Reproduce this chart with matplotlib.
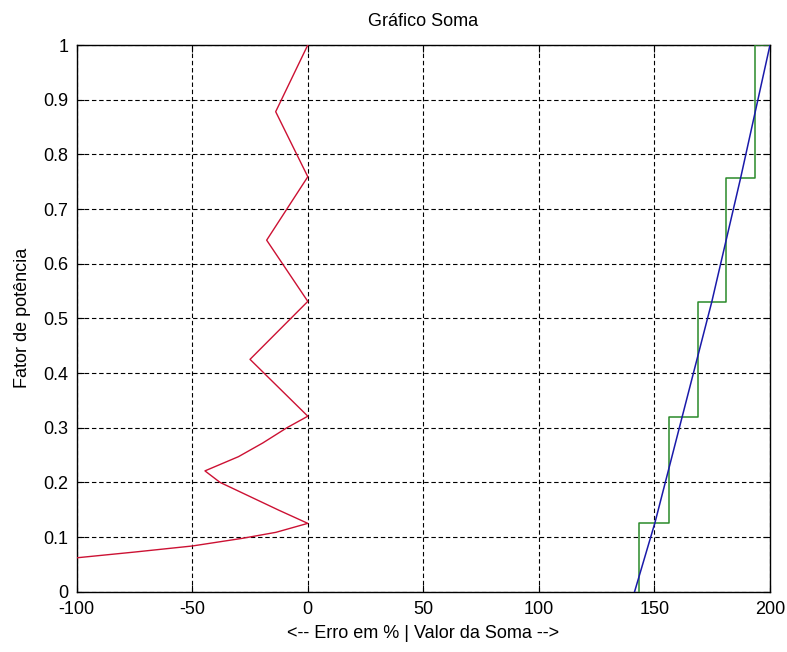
import matplotlib
matplotlib.use("Agg")
import matplotlib.pyplot as plt
import numpy as np

# ---- data ----
# red: error in % vs power factor
erro_fp = [0.062, 0.0725, 0.0836, 0.0977, 0.1086, 0.125,
           0.149, 0.18, 0.2, 0.221,
           0.247, 0.272, 0.3, 0.321,
           0.425, 0.531, 0.643, 0.759, 0.878, 1.0]
erro_pct = [-100, -75, -50, -28.2, -13.8, 0,
            -12.5, -28, -38, -44.5,
            -30, -19.5, -9, 0,
            -25, 0, -17.8, 0, -13.9, 0]

# blue: exact sum value vs power factor
soma_fp = [0.0, 0.126, 0.32, 0.53, 0.757, 1.0]
soma_val = [141.4, 150.2, 162.0, 174.8, 187.3, 200.0]

# green: quantized (staircase) sum
degrau_fp = [0.0, 0.126, 0.32, 0.53, 0.757, 1.0]
degrau_val = [143.5, 156.1, 168.7, 181.1, 193.5, 200.0]

xticks = [-100, -50, 0, 50, 100, 150, 200]
yticks = [0, 0.1, 0.2, 0.3, 0.4, 0.5, 0.6, 0.7, 0.8, 0.9, 1.0]
ytick_labels = ["0", "0.1", "0.2", "0.3", "0.4", "0.5", "0.6", "0.7", "0.8", "0.9", "1"]

plt.rcParams['font.family'] = ['Liberation Sans', 'DejaVu Sans']

fig = plt.figure(figsize=(7.87, 6.52), dpi=100)
ax = fig.add_axes([76.7 / 787, 60.3 / 652, (770 - 76.7) / 787, (591.7 - 45) / 652])

# staircase vertices built from the step arrays
gx, gy = [], []
for i in range(len(degrau_val) - 1):
    gx += [degrau_val[i], degrau_val[i]]
    gy += [degrau_fp[i], degrau_fp[i + 1]]
gx.append(degrau_val[-1])
gy.append(degrau_fp[-1])

ax.plot(erro_pct, erro_fp, color='#cc1133', lw=1.0, zorder=3)
ax.plot(gx, gy, color='#2a8a2a', lw=1.1, zorder=3)
ax.plot(soma_val, soma_fp, color='#1a1aaa', lw=1.1, zorder=4)

ax.set_xlim(-100, 200)
ax.set_ylim(0, 1)
ax.set_xticks(xticks)
ax.set_xticklabels([str(t) for t in xticks])
ax.set_yticks(yticks)
ax.set_yticklabels(ytick_labels)

ax.grid(True, color='black', linestyle=(0, (4, 2.5)), linewidth=0.8)
ax.set_axisbelow(True)
ax.tick_params(direction='in', length=5, width=0.8, top=True, right=True,
               labelsize=13, colors='black')
ax.tick_params(axis='x', pad=7)
ax.tick_params(axis='y', pad=6)
for s in ax.spines.values():
    s.set_linewidth(1.0)
    s.set_color('black')

ax.set_title("Gráfico Soma", fontsize=13, pad=14)
ax.set_xlabel("<-- Erro em % | Valor da Soma -->", fontsize=13, labelpad=5)
ax.set_ylabel("Fator de potência", fontsize=13, labelpad=9)

fig.savefig("out.png", dpi=100)
